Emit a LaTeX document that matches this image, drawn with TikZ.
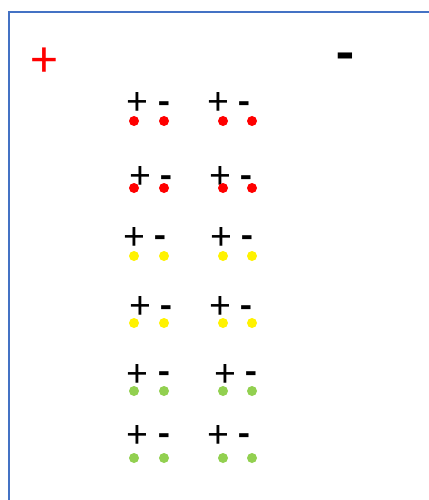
\documentclass[tikz,border=0pt]{standalone}
\usepackage{fontspec}
\setmainfont{Carlito}
\usetikzlibrary{positioning}

\definecolor{frameblue}{RGB}{68,114,196}
\definecolor{dotgreen}{RGB}{146,208,80}

\begin{document}
\begin{tikzpicture}[
    x=1pt, y=-1pt,
    plussign/.style={inner sep=0, yshift=-3pt, font=\fontsize{40}{40}\selectfont},
    minussign/.style={inner sep=0, yshift=-6pt, font=\fontsize{38}{38}\selectfont\bfseries},
    charge/.style={circle, inner sep=0, minimum size=10pt},
]
    \useasboundingbox (0,0) rectangle (428,500);
    % frame
    \draw[frameblue, line width=2.5pt] (9,520) -- (9,12) -- (440,12);

    % big charges
    \node[plussign, text=red, font=\fontsize{52}{52}\selectfont, yshift=-1pt] (bigplus) at (44,58) {+};
    \node[minussign, font=\fontsize{58}{58}\selectfont\bfseries, yshift=-4pt] (bigminus) at (345,53) {-};

    % row 1
    \node[plussign] (p1a) at (137,101) {+};
    \node[minussign] (m1a) at (164,102) {-};
    \node[plussign] (p1b) at (218,101) {+};
    \node[minussign] (m1b) at (244,102) {-};
    \node[charge, fill=red] (c1a) at (134,121) {};
    \node[charge, fill=red] (d1a) at (164,121) {};
    \node[charge, fill=red] (c1b) at (223,121) {};
    \node[charge, fill=red] (d1b) at (252,121) {};

    % row 2
    \node[plussign] (p2a) at (140,175) {+};
    \node[minussign] (m2a) at (166,176) {-};
    \node[plussign] (p2b) at (220,175) {+};
    \node[minussign] (m2b) at (246,176) {-};
    \node[charge, fill=red] (c2a) at (134,188) {};
    \node[charge, fill=red] (d2a) at (164,188) {};
    \node[charge, fill=red] (c2b) at (223,188) {};
    \node[charge, fill=red] (d2b) at (252,188) {};

    % row 3
    \node[plussign] (p3a) at (134,236) {+};
    \node[minussign] (m3a) at (160,236) {-};
    \node[plussign] (p3b) at (221,236) {+};
    \node[minussign] (m3b) at (247,236) {-};
    \node[charge, fill=yellow] (c3a) at (134,256) {};
    \node[charge, fill=yellow] (d3a) at (164,256) {};
    \node[charge, fill=yellow] (c3b) at (223,256) {};
    \node[charge, fill=yellow] (d3b) at (252,256) {};

    % row 4
    \node[plussign] (p4a) at (140,305) {+};
    \node[minussign] (m4a) at (166,306) {-};
    \node[plussign] (p4b) at (220,305) {+};
    \node[minussign] (m4b) at (246,306) {-};
    \node[charge, fill=yellow] (c4a) at (134,323) {};
    \node[charge, fill=yellow] (d4a) at (164,323) {};
    \node[charge, fill=yellow] (c4b) at (223,323) {};
    \node[charge, fill=yellow] (d4b) at (252,323) {};

    % row 5
    \node[plussign] (p5a) at (137,372) {+};
    \node[minussign] (m5a) at (164,372) {-};
    \node[plussign] (p5b) at (225,372) {+};
    \node[minussign] (m5b) at (251,372) {-};
    \node[charge, fill=dotgreen] (c5a) at (134,391) {};
    \node[charge, fill=dotgreen] (d5a) at (164,391) {};
    \node[charge, fill=dotgreen] (c5b) at (223,391) {};
    \node[charge, fill=dotgreen] (d5b) at (252,391) {};

    % row 6
    \node[plussign] (p6a) at (137,433) {+};
    \node[minussign] (m6a) at (164,434) {-};
    \node[plussign] (p6b) at (218,433) {+};
    \node[minussign] (m6b) at (244,434) {-};
    \node[charge, fill=dotgreen] (c6a) at (134,458) {};
    \node[charge, fill=dotgreen] (d6a) at (164,458) {};
    \node[charge, fill=dotgreen] (c6b) at (223,458) {};
    \node[charge, fill=dotgreen] (d6b) at (252,458) {};
\end{tikzpicture}
\end{document}
